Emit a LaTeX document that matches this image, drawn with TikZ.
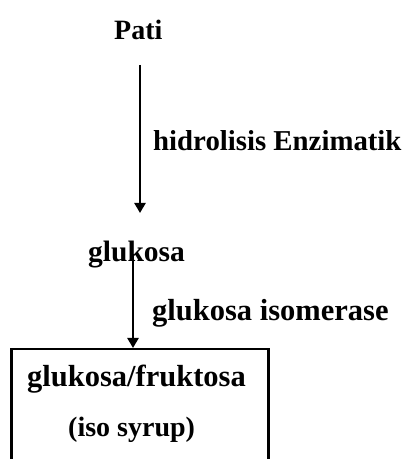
\documentclass[tikz,border=0pt]{standalone}
\usepackage{fontspec}
\setmainfont{Liberation Serif}
\usetikzlibrary{arrows.meta}
\tikzset{
  lbl/.style={inner sep=0pt, anchor=base west, font=\bfseries},
  flow/.style={line width=2.8pt, -{Triangle[length=10pt,width=11pt]}},
  boxline/.style={line width=2.5pt}
}
\begin{document}
\begin{tikzpicture}[x=1pt,y=1pt]
\useasboundingbox (0,0) rectangle (406,459);
\clip (0,0) rectangle (406,459);
\node[lbl, font=\bfseries\fontsize{28}{30}\selectfont] (pati) at (114,419) {Pati};
\node[lbl, font=\bfseries\fontsize{28.8}{31}\selectfont] (hidro) at (153,308) {hidrolisis Enzimatik};
\node[lbl, font=\bfseries\fontsize{29.5}{31}\selectfont] (gluk) at (88,197) {glukosa};
\node[lbl, font=\bfseries\fontsize{30.5}{32}\selectfont] (iso) at (152,139) {glukosa isomerase};
\node[draw, boxline, inner sep=0pt, minimum width=257pt, minimum height=140pt, anchor=north west] (box) at (10,111) {};
\node[lbl, font=\bfseries\fontsize{30.5}{32}\selectfont] (gf) at (27,73) {glukosa/fruktosa};
\node[lbl, font=\bfseries\fontsize{28}{30}\selectfont] (syr) at (68,23) {(iso syrup)};
\coordinate (a1s) at (140,394);
\coordinate (a1e) at (140,246);
\coordinate (a2s) at (133,205);
\draw[flow] (a1s) -- (a1e);
\draw[flow] (a2s) -- (a2s |- box.north);
\end{tikzpicture}
\end{document}
